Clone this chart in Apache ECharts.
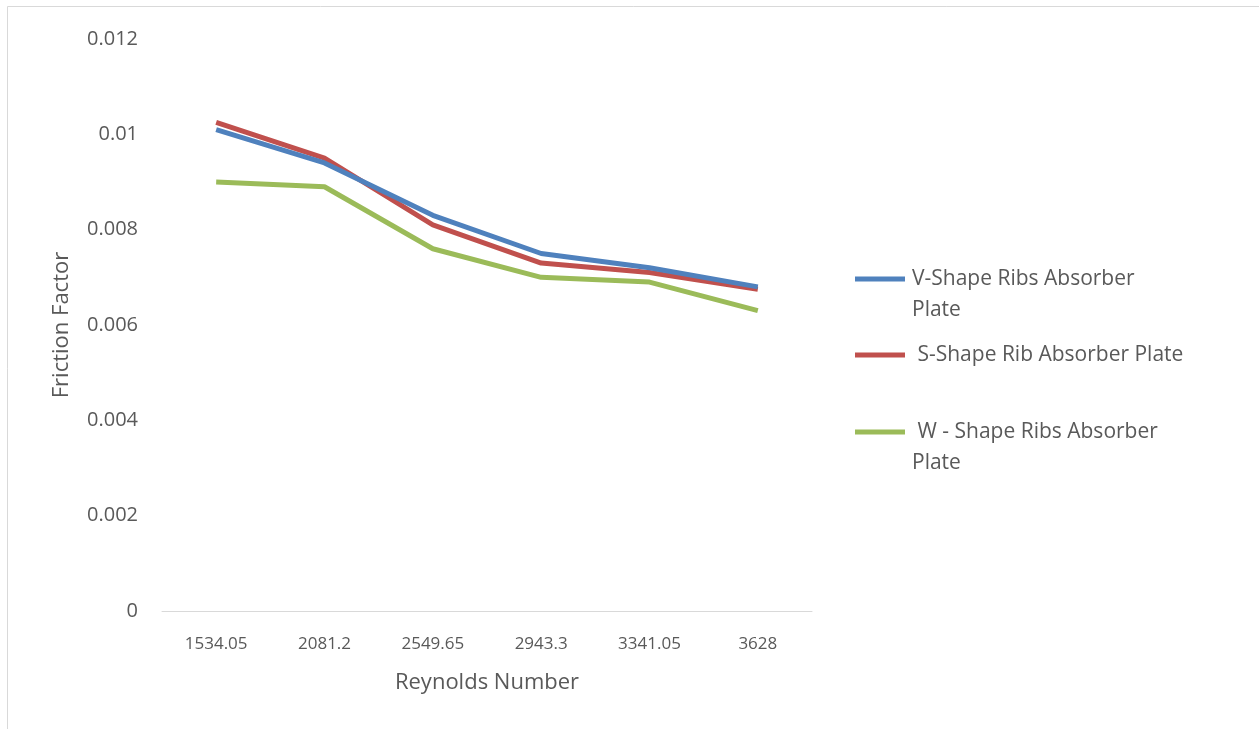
<!DOCTYPE html>
<html>
<head>
<meta charset="utf-8">
<script src="https://cdn.jsdelivr.net/npm/echarts@6/dist/echarts.min.js"></script>
<style>
html,body{margin:0;padding:0;background:#fff;}
#chart{width:1259px;height:729px;}
</style>
</head>
<body>
<div id="chart"></div>
<script>
const categories = ['1534.05', '2081.2', '2549.65', '2943.3', '3341.05', '3628'];
const vShape = [0.0101, 0.0094, 0.0083, 0.0075, 0.0072, 0.0068];
const sShape = [0.01025, 0.0095, 0.0081, 0.0073, 0.0071, 0.00675];
const wShape = [0.0090, 0.0089, 0.0076, 0.0070, 0.0069, 0.0063];
const seriesNames = ['V-Shape Ribs Absorber Plate', ' S-Shape Rib Absorber Plate', ' W - Shape Ribs Absorber Plate'];
const legendLabels = ['\nV-Shape Ribs Absorber\nPlate', ' S-Shape Rib Absorber Plate', '\n W - Shape Ribs Absorber\nPlate'];
const colors = ['#4F81BD', '#C0504D', '#9BBB59'];
const values = [vShape, sShape, wShape];

const FONT = 'Open Sans';
const TXT = '#595959';

const chart = echarts.init(document.getElementById('chart'));

function legendFor(i, top) {
  return {
    data: [seriesNames[i]],
    left: 855,
    top: top,
    padding: 0,
    itemWidth: 50,
    itemHeight: 5,
    itemGap: 6,
    icon: 'rect',
    formatter: function () { return legendLabels[i]; },
    textStyle: {
      fontFamily: FONT,
      fontSize: 21,
      color: TXT,
      lineHeight: 31,
      padding: [0, 0, 0, 2]
    }
  };
}

const option = {
  backgroundColor: '#ffffff',
  animation: false,
  graphic: [{
    type: 'rect',
    shape: { x: 7.5, y: 6.5, width: 1400, height: 900 },
    style: { fill: 'none', stroke: '#d9d9d9', lineWidth: 1 },
    silent: true
  }],
  grid: { left: 162, right: 447, top: 39, bottom: 118, containLabel: false },
  legend: [
    legendFor(0, 279 - 46.5),
    legendFor(1, 355 - 15.5),
    legendFor(2, 432 - 46.5)
  ],
  xAxis: {
    type: 'category',
    data: categories,
    boundaryGap: true,
    axisLine: { show: true, lineStyle: { color: '#d9d9d9', width: 1 } },
    axisTick: { show: false },
    axisLabel: { fontFamily: FONT, fontSize: 17, color: TXT, margin: 25 },
    name: 'Reynolds Number',
    nameLocation: 'middle',
    nameGap: 61,
    nameTextStyle: { fontFamily: FONT, fontSize: 22, color: TXT }
  },
  yAxis: {
    type: 'value',
    min: 0,
    max: 0.012,
    interval: 0.002,
    axisLine: { show: false },
    axisTick: { show: false },
    splitLine: { show: false },
    axisLabel: {
      fontFamily: FONT, fontSize: 20, color: TXT, margin: 24,
      formatter: function (v) { return String(parseFloat(v.toFixed(4))); }
    },
    name: 'Friction Factor',
    nameLocation: 'middle',
    nameGap: 89,
    nameTextStyle: { fontFamily: FONT, fontSize: 22, color: TXT }
  },
  series: values.map(function (d, i) {
    return {
      name: seriesNames[i],
      type: 'line',
      data: d,
      symbol: 'none',
      smooth: false,
      lineStyle: { color: colors[i], width: 5 },
      itemStyle: { color: colors[i] },
      z: 3 - i
    };
  })
};
chart.setOption(option);
</script>
</body>
</html>
